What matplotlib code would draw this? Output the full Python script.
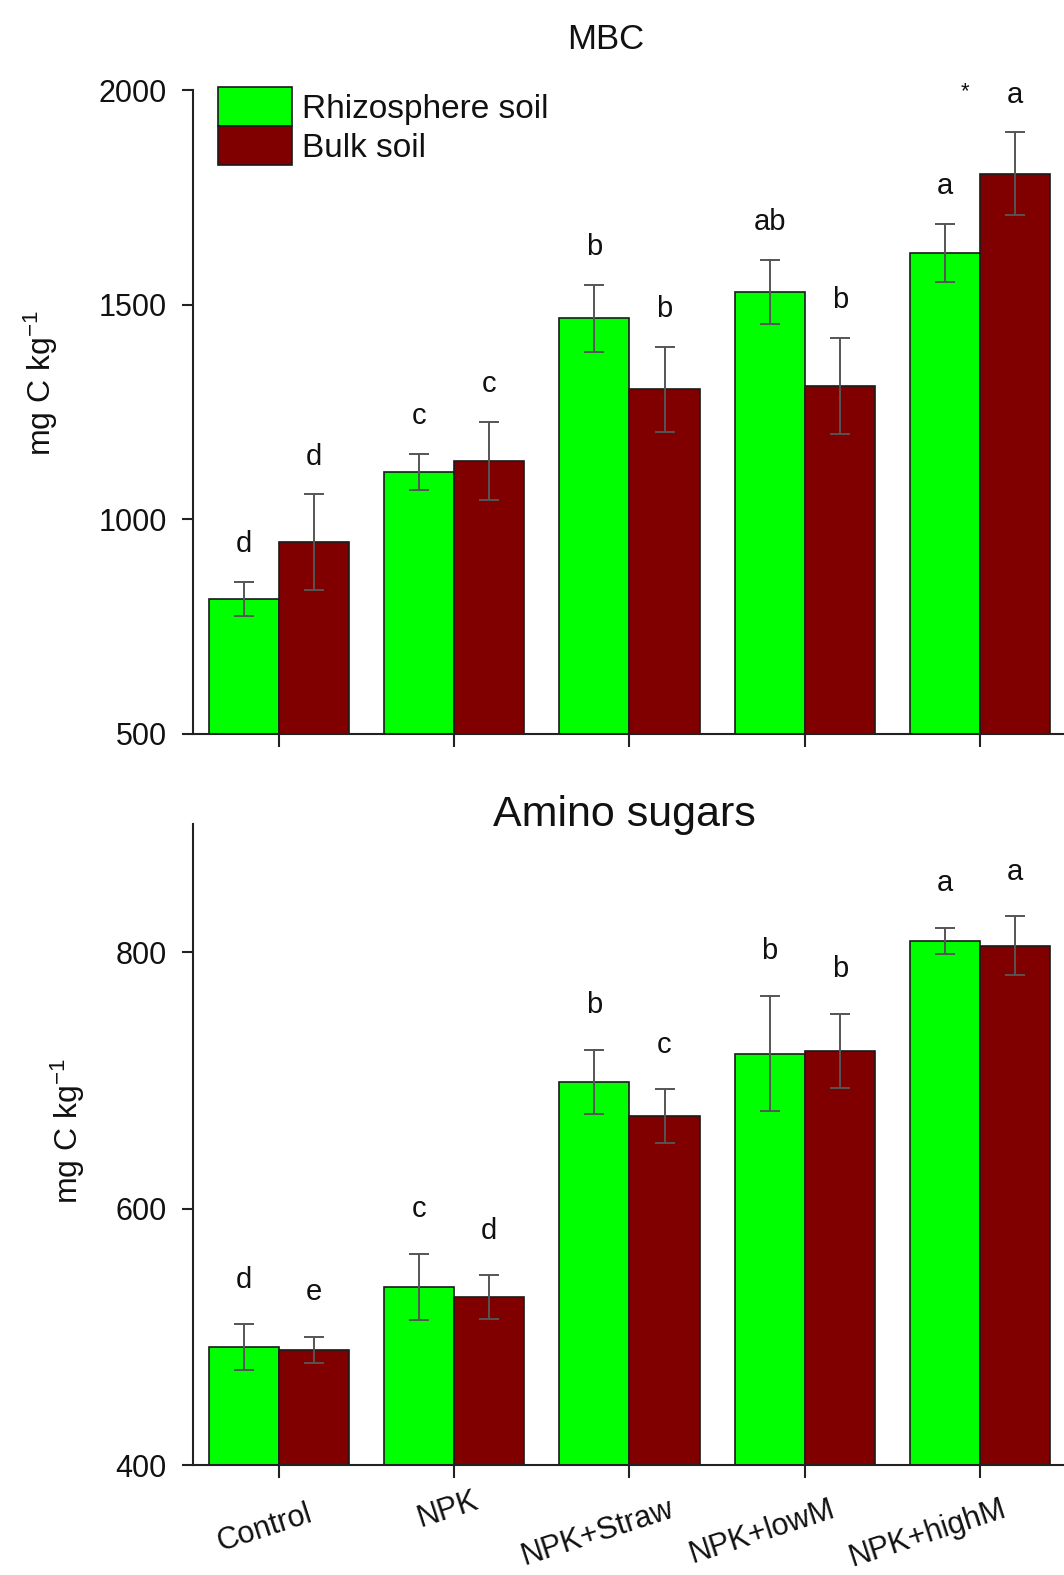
import matplotlib
matplotlib.use("Agg")
import matplotlib.pyplot as plt
import matplotlib.transforms as mtransforms
import numpy as np

plt.rcParams['font.family'] = ['Liberation Sans', 'DejaVu Sans']
plt.rcParams['mathtext.fontset'] = 'custom'
plt.rcParams['mathtext.rm'] = 'Liberation Sans'
plt.rcParams['mathtext.it'] = 'Liberation Sans:italic'

# ---------------- data ----------------
categories = ["Control", "NPK", "NPK+Straw", "NPK+lowM", "NPK+highM"]
series_names = ["Rhizosphere soil", "Bulk soil"]

mbc_rhizo = [815, 1111, 1469, 1530, 1621]
mbc_rhizo_err = [40, 42, 78, 75, 68]
mbc_bulk = [947, 1137, 1303, 1312, 1806]
mbc_bulk_err = [112, 91, 100, 112, 96]
mbc_rhizo_letters = ["d", "c", "b", "ab", "a"]
mbc_bulk_letters = ["d", "c", "b", "b", "a"]

amino_rhizo = [492, 539, 699, 721, 809]
amino_rhizo_err = [18, 26, 25, 45, 10]
amino_bulk = [490, 531, 672, 723, 805]
amino_bulk_err = [10, 17, 21, 29, 23]
amino_rhizo_letters = ["d", "c", "b", "b", "a"]
amino_bulk_letters = ["e", "d", "c", "b", "a"]

mbc_yticks = [500, 1000, 1500, 2000]
amino_yticks = [400, 600, 800]

# ---------------- style ----------------
GREEN = "#00FF00"
RED = "#800000"
ERR = "#555555"
TXT = "#111111"
W = 0.4

fig = plt.figure(figsize=(10.64, 15.75), dpi=100)
ax1 = fig.add_axes([0.1814, 0.534, 0.8186, 0.4086])
ax2 = fig.add_axes([0.1814, 0.0698, 0.8186, 0.407])

x = np.arange(len(categories))


def draw(ax, r, re, b, be, rl, bl, ylim, yticks, letter_off):
    ax.bar(x - W / 2, r, W, color=GREEN, edgecolor="#1a1a1a", linewidth=1.2,
           zorder=2, label=series_names[0])
    ax.bar(x + W / 2, b, W, color=RED, edgecolor="#1a1a1a", linewidth=1.2,
           zorder=2, label=series_names[1])
    ax.errorbar(x - W / 2, r, yerr=re, fmt="none", ecolor=ERR, elinewidth=1.4,
                capsize=7, capthick=1.4, zorder=3)
    ax.errorbar(x + W / 2, b, yerr=be, fmt="none", ecolor=ERR, elinewidth=1.4,
                capsize=7, capthick=1.4, zorder=3)
    for i in range(len(x)):
        ax.annotate(rl[i], (x[i] - W / 2, r[i] + re[i]), xytext=(0, letter_off),
                    textcoords="offset points", ha="center", va="center",
                    fontsize=21, color=TXT)
        ax.annotate(bl[i], (x[i] + W / 2, b[i] + be[i]), xytext=(0, letter_off),
                    textcoords="offset points", ha="center", va="center",
                    fontsize=21, color=TXT)
    ax.set_ylim(*ylim)
    ax.set_xlim(-0.491, 4.48)
    ax.set_yticks(yticks)
    ax.set_xticks(x)
    for s in ["top", "right"]:
        ax.spines[s].set_visible(False)
    for s in ["left", "bottom"]:
        ax.spines[s].set_linewidth(1.5)
        ax.spines[s].set_color("#222222")
    ax.tick_params(axis="y", direction="out", length=8, width=1.5, pad=11,
                   labelsize=22, colors="#222222", labelcolor=TXT)
    ax.tick_params(axis="x", direction="out", length=9, width=1.5,
                   labelsize=22, colors="#222222", labelcolor=TXT)


draw(ax1, mbc_rhizo, mbc_rhizo_err, mbc_bulk, mbc_bulk_err,
     mbc_rhizo_letters, mbc_bulk_letters, (500, 2000), mbc_yticks, 27)
draw(ax2, amino_rhizo, amino_rhizo_err, amino_bulk, amino_bulk_err,
     amino_rhizo_letters, amino_bulk_letters, (400, 900), amino_yticks, 32)

ax1.set_xticklabels([])
ax2.set_xticklabels(categories, rotation=18, ha="center")
# per-label layout nudges (pixels: dx, dy)
nudges = [(-14, -16), (-6, -3), (-32, -12), (-43, -12), (-52, -12)]
for lbl, (dx, dy) in zip(ax2.get_xticklabels(), nudges):
    lbl.set_transform(lbl.get_transform() +
                      mtransforms.ScaledTranslation(dx / 100, dy / 100, fig.dpi_scale_trans))

# asterisk near highM bulk
ax1.annotate("*", (x[-1] + W / 2, mbc_bulk[-1] + mbc_bulk_err[-1]), xytext=(-36, 29),
             textcoords="offset points", ha="center", va="center", fontsize=16,
             color=TXT)

# legend
leg = ax1.legend(loc="upper left", bbox_to_anchor=(0.029, 1.005), frameon=False,
                 fontsize=24, handlelength=2.2, handleheight=1.4,
                 labelspacing=0.02, handletextpad=0.3, borderpad=0, borderaxespad=0)
for t in leg.get_texts():
    t.set_color(TXT)

# titles and y labels
fig.text(0.569, 0.975, "MBC", ha="center", va="center", fontsize=25, color=TXT)
fig.text(0.587, 0.4825, "Amino sugars", ha="center", va="center", fontsize=31,
         color=TXT)
ylab = r"mg C kg$^{\mathregular{-1}}$"
fig.text(0.038, 0.757, ylab, rotation=90, ha="center", va="center", fontsize=23,
         color=TXT)
fig.text(0.064, 0.282, ylab, rotation=90, ha="center", va="center", fontsize=23,
         color=TXT)

fig.savefig("out.png", dpi=100)
